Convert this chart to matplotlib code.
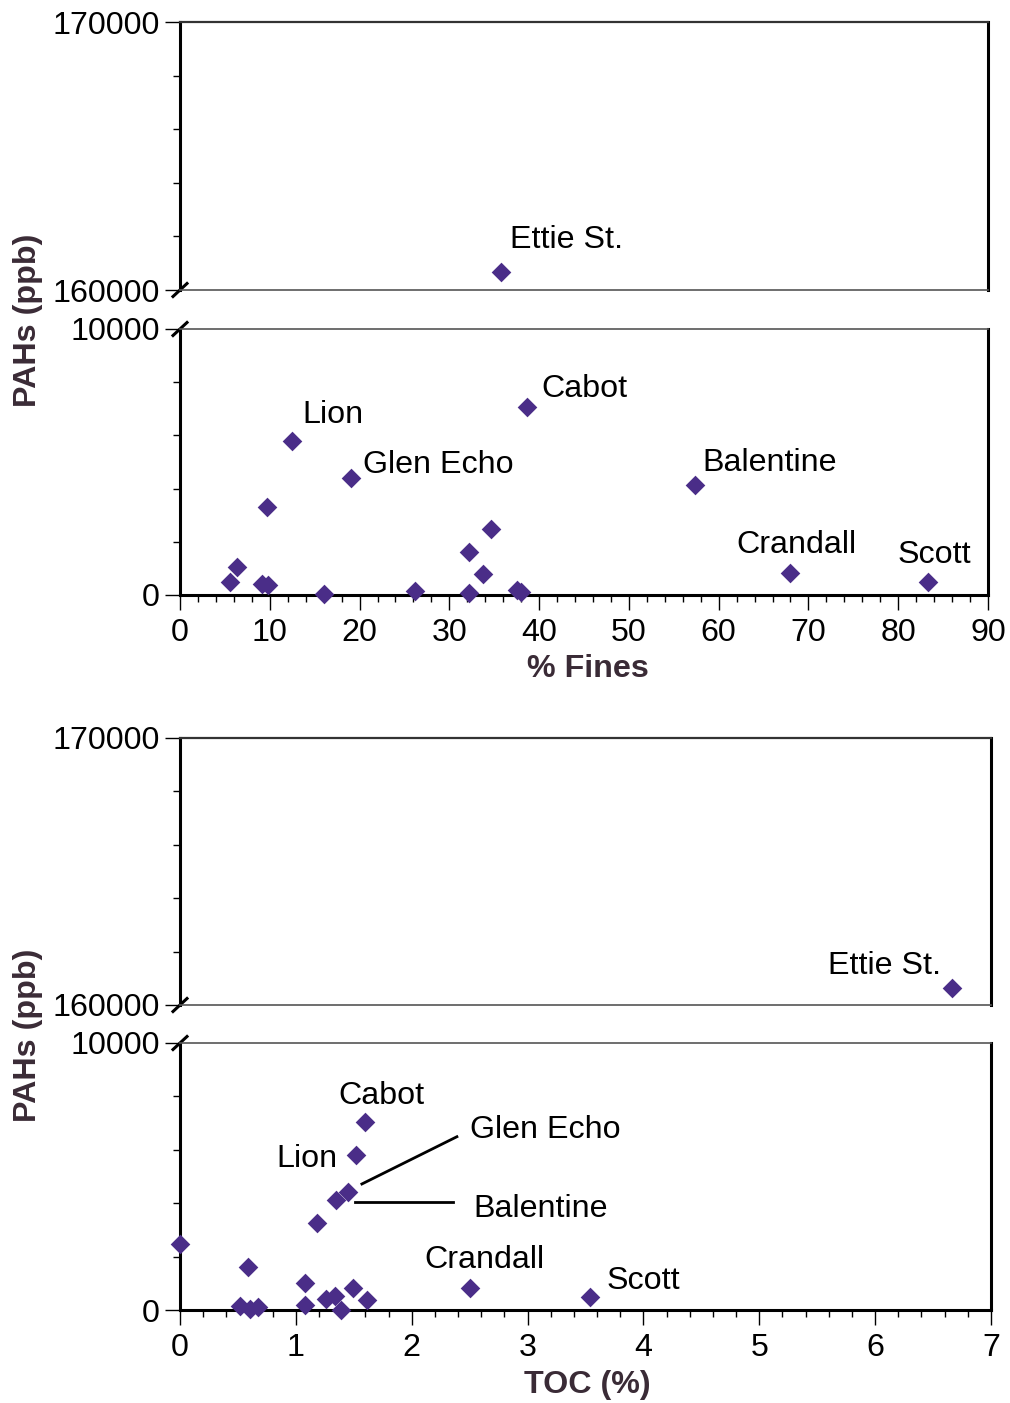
import matplotlib
matplotlib.use('Agg')
from matplotlib import pyplot as plt
from matplotlib.ticker import MultipleLocator, FixedLocator, NullFormatter

plt.rcParams['font.family'] = ['Liberation Sans', 'DejaVu Sans']

# % Fines vs PAHs
fines_x = [5.6, 6.3, 9.1, 9.8, 9.7, 12.5, 16.0, 19.1, 26.2, 32.2, 32.2, 33.8, 34.6,
           37.5, 38.0, 38.7, 57.4, 67.9, 83.3, 35.7]
fines_y = [500, 1040, 420, 380, 3290, 5780, 20, 4410, 160, 90, 1620, 790, 2480,
           190, 100, 7050, 4120, 810, 500, 160670]

# TOC vs PAHs
toc_x = [0.0, 0.52, 0.60, 0.67, 0.59, 1.08, 1.08, 1.18, 1.26, 1.34, 1.39, 1.49, 1.61,
         1.35, 1.45, 1.52, 1.60, 2.50, 3.54, 6.66]
toc_y = [2470, 160, 25, 125, 1600, 1020, 190, 3270, 400, 520, 0, 810, 375,
         4120, 4430, 5800, 7050, 820, 490, 160640]

# site labels: (text, x, y, ha)
fines_labels = [
    ('Ettie St.', 36.8, 161860, 'left'),
    ('Lion', 13.6, 6750, 'left'),
    ('Glen Echo', 20.4, 4880, 'left'),
    ('Cabot', 40.3, 7760, 'left'),
    ('Balentine', 58.2, 4950, 'left'),
    ('Crandall', 62.0, 1880, 'left'),
    ('Scott', 79.9, 1500, 'left'),
]
toc_labels = [
    ('Ettie St.', 6.57, 161460, 'right'),
    ('Cabot', 1.74, 8020, 'center'),
    ('Lion', 1.36, 5660, 'right'),
    ('Glen Echo', 2.50, 6750, 'left'),
    ('Balentine', 2.53, 3790, 'left'),
    ('Crandall', 2.11, 1880, 'left'),
    ('Scott', 3.68, 1090, 'left'),
]
# leader lines in TOC plot
toc_leaders = [([1.57, 2.39], [4720, 6490]), ([1.51, 2.36], [4050, 4050])]

W, H = 1010, 1403
FS = 23.2
MARKER = '#4a2d88'
LABEL_COLOR = '#3a2b36'


def rect(x0, x1, y0, y1):
    return [x0 / W, 1 - y1 / H, (x1 - x0) / W, (y1 - y0) / H]


def style_axis(ax, upper):
    ax.spines['left'].set_linewidth(2.2)
    ax.spines['right'].set_linewidth(2.2)
    if upper:
        ax.spines['top'].set_linewidth(1.6)
        ax.spines['top'].set_color('#333333')
        ax.spines['bottom'].set_linewidth(1.2)
        ax.spines['bottom'].set_color('#555555')
        ax.set_ylim(160000, 170000)
        ax.yaxis.set_major_locator(FixedLocator([160000, 170000]))
        ax.tick_params(axis='x', which='both', bottom=False, labelbottom=False)
    else:
        ax.spines['top'].set_linewidth(1.2)
        ax.spines['top'].set_color('#555555')
        ax.spines['bottom'].set_linewidth(2.2)
        ax.set_ylim(0, 10000)
        ax.yaxis.set_major_locator(FixedLocator([0, 10000]))
    ax.yaxis.set_minor_locator(MultipleLocator(2000))
    ax.yaxis.set_minor_formatter(NullFormatter())
    ax.yaxis.set_major_formatter(plt.FuncFormatter(lambda v, p: '%d' % v))
    ax.tick_params(axis='both', which='major', direction='out', length=11, width=1,
                   labelsize=FS, pad=3.5)
    ax.tick_params(axis='x', which='major', pad=5.5)
    ax.tick_params(axis='both', which='minor', direction='out', length=5, width=1)


def break_mark(ax, at_top):
    bb = ax.get_position()
    dx = 7 / (bb.width * W)
    dy = 6.5 / (bb.height * H)
    y = 1 if at_top else 0
    ax.plot([-dx, dx], [y - dy, y + dy], transform=ax.transAxes, color='black',
            lw=2.2, clip_on=False)


def draw_pair(box, xs, ys, labels, xlim, xmajor, xminor, xlabel, xlabel_pos, ylabel_pos,
              leaders=()):
    x0, x1, ytop, ymid1, ymid2, ybot = box
    ax_hi = fig.add_axes(rect(x0, x1, ytop, ymid1))
    ax_lo = fig.add_axes(rect(x0, x1, ymid2, ybot))
    for ax, upper in ((ax_hi, True), (ax_lo, False)):
        ax.set_xlim(*xlim)
        ax.scatter(xs, ys, marker='D', s=100, color=MARKER, linewidths=0,
                   zorder=5, clip_on=False)
        style_axis(ax, upper)
    ax_lo.xaxis.set_major_locator(MultipleLocator(xmajor))
    ax_lo.xaxis.set_minor_locator(MultipleLocator(xminor))
    ax_lo.xaxis.set_major_formatter(plt.FuncFormatter(lambda v, p: '%d' % v))
    ax_hi.set_xlim(*xlim)
    ax_lo.set_xlim(*xlim)
    # scatter may push the limits, fix them again
    ax_hi.set_ylim(160000, 170000)
    ax_lo.set_ylim(0, 10000)

    for text, x, y, ha in labels:
        ax = ax_hi if y > 100000 else ax_lo
        ax.text(x, y, text, ha=ha, va='center', fontsize=FS, zorder=6)
    for lx, ly in leaders:
        ax_lo.plot(lx, ly, color='black', lw=2)

    break_mark(ax_hi, False)
    break_mark(ax_lo, True)

    fig.text(xlabel_pos[0] / W, 1 - xlabel_pos[1] / H, xlabel, ha='center', va='center',
             fontsize=FS, fontweight='bold', color=LABEL_COLOR)
    fig.text(ylabel_pos[0] / W, 1 - ylabel_pos[1] / H, 'PAHs (ppb)', ha='center',
             va='center', rotation=90, fontsize=FS, fontweight='bold', color=LABEL_COLOR)


fig = plt.figure(figsize=(W / 100, H / 100), dpi=100)

draw_pair((180, 988, 22, 290, 329, 595), fines_x, fines_y, fines_labels,
          (0, 90), 10, 2, '% Fines', (588, 669), (28, 320))
draw_pair((180, 991, 738, 1005, 1043, 1310), toc_x, toc_y, toc_labels,
          (0, 7), 1, 0.2, 'TOC (%)', (587, 1385), (28, 1035), leaders=toc_leaders)

fig.savefig('out.png', dpi=100)
